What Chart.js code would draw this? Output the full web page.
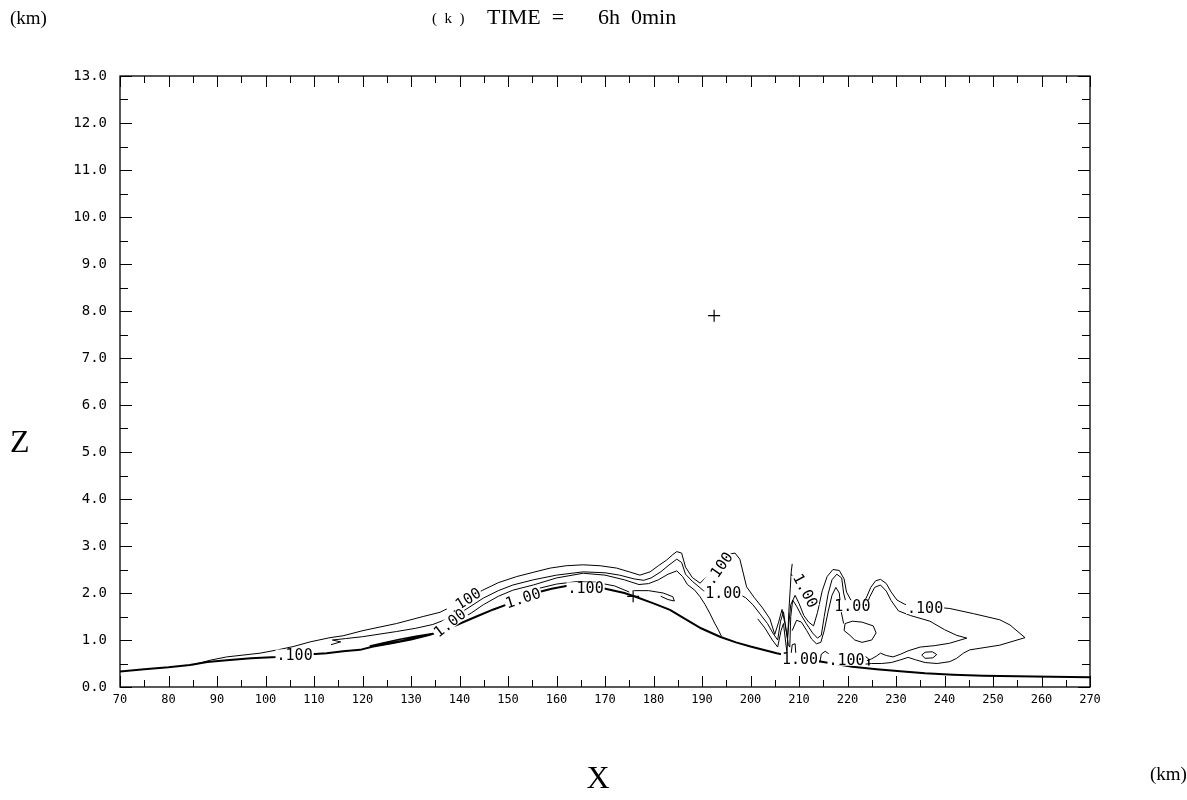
<!DOCTYPE html>
<html>
<head>
<meta charset="utf-8">
<script src="https://cdn.jsdelivr.net/npm/chart.js@4.4.1/dist/chart.umd.min.js"></script>
<style>
    html, body { margin: 0; padding: 0; background: #fff; }
</style>
</head>
<body>
<canvas id="contourChart" width="1187" height="800"></canvas>
<script>
// all values in km: [x, z]
const terrain = [
    [70, 0.33], [75, 0.38], [80, 0.42], [84.4, 0.47], [88, 0.53], [92, 0.57], [97, 0.61], [102.3, 0.64],
    [107, 0.68], [112.6, 0.72], [116, 0.76], [119.5, 0.79], [122.2, 0.86], [126, 0.93], [130, 1.01],
    [133.9, 1.11], [137, 1.22], [139.4, 1.32], [143.5, 1.50], [147, 1.65], [150.4, 1.78], [153, 1.90],
    [156, 2.01], [159, 2.09], [162, 2.15], [165, 2.17], [168, 2.14], [171, 2.07], [174, 2.00], [176, 1.93],
    [180, 1.78], [183.4, 1.64], [186.5, 1.45], [189.8, 1.25], [193.7, 1.07], [197, 0.95], [200, 0.86],
    [205.4, 0.72], [210, 0.62], [215, 0.53], [221, 0.43], [226, 0.38], [231.5, 0.33], [236, 0.29],
    [241.8, 0.26], [248, 0.24], [255, 0.23], [262, 0.22], [270, 0.21]
];

const outerContour = [
    [85, 0.47], [88.6, 0.57], [92, 0.64], [98.9, 0.72], [102.5, 0.79], [105.7, 0.86], [109.2, 0.96],
    [113.3, 1.05], [116, 1.09], [120.1, 1.20], [127, 1.35], [132.5, 1.50], [136, 1.59], [140, 1.80],
    [144.8, 2.06], [148, 2.22], [151.8, 2.35], [155.2, 2.44], [158.7, 2.53], [162, 2.58], [165.5, 2.60],
    [169, 2.58], [172.4, 2.53], [175, 2.45], [177.2, 2.38], [179.3, 2.45], [181, 2.58], [182.7, 2.70],
    [184, 2.82], [184.8, 2.88], [185.8, 2.85], [186.6, 2.55], [188, 2.33], [189.6, 2.21], [191.5, 2.40],
    [193.5, 2.65], [195.3, 2.82], [196.8, 2.85], [197.8, 2.72], [199.2, 2.13], [200.8, 1.90], [202.5, 1.68],
    [204, 1.45], [205, 1.12], [205.8, 1.38], [206.5, 1.65], [207.1, 1.35], [207.6, 1.05], [208.3, 1.75],
    [209.2, 1.95], [210, 1.78], [211, 1.52], [212, 1.38], [213, 1.30], [213.8, 1.58], [214.8, 2.05],
    [215.8, 2.35], [217, 2.50], [218.3, 2.48], [219.3, 2.30], [219.8, 2.02], [220.8, 1.83], [222.5, 1.78],
    [223.8, 1.88], [224.8, 2.12], [225.8, 2.26], [226.8, 2.29], [228, 2.20], [229, 2.02], [230.2, 1.85],
    [231.8, 1.76], [236, 1.72], [241.1, 1.67], [246, 1.56], [251.4, 1.43], [253.5, 1.32], [256.6, 1.05],
    [251.4, 0.89], [245.2, 0.79], [243.9, 0.72], [242.5, 0.61], [241.1, 0.54], [238.5, 0.50], [236, 0.52],
    [234, 0.58], [232.5, 0.63], [231, 0.58], [229, 0.52], [227, 0.50], [225, 0.50], [223, 0.48]
];

const secondContour = [
    [113.5, 0.90], [115.5, 0.96], [113.8, 1.00], [116.5, 1.03], [120, 1.07], [127, 1.18], [131, 1.25],
    [134.5, 1.33], [138, 1.47], [141, 1.63], [144.9, 1.89], [148, 2.05], [151, 2.17], [155.2, 2.28],
    [160, 2.38], [165.5, 2.45], [170, 2.43], [173, 2.38], [176, 2.30], [178, 2.27], [179.5, 2.32],
    [181.5, 2.45], [183, 2.58], [184.8, 2.72], [185.8, 2.65], [186.6, 2.40], [188, 2.25], [190.3, 2.05],
    [192, 2.00], [197.5, 1.98], [199, 1.90], [200.5, 1.75], [202, 1.55], [203.5, 1.35], [204.6, 1.15],
    [205.6, 1.00], [206.2, 1.40], [206.8, 1.60], [207.3, 1.25], [207.8, 0.90], [208.1, 0.85], [208.3, 1.50],
    [208.7, 1.85], [209.5, 1.72], [210.5, 1.52], [211.5, 1.35], [212.8, 1.15], [213.8, 1.04], [214.6, 1.10],
    [215.2, 1.50], [216, 1.98], [216.8, 2.28], [217.8, 2.40], [218.8, 2.32], [219.2, 2.00], [219.8, 1.75],
    [221, 1.64], [222.5, 1.60], [223.6, 1.66], [224.6, 1.92], [225.6, 2.12], [226.8, 2.17], [228, 2.04],
    [229, 1.84], [230.5, 1.62], [233, 1.52], [237, 1.40], [240, 1.22], [242.5, 1.10], [244.6, 1.04],
    [241, 0.93], [238, 0.88], [235, 0.85], [232.5, 0.77], [231, 0.70], [229.4, 0.64], [228, 0.67],
    [226.8, 0.72], [226, 0.66], [225, 0.60], [224, 0.56]
];

const thirdContour = [
    [134.6, 1.14], [137, 1.24], [140, 1.42], [142.5, 1.58], [144.9, 1.75], [148, 1.93], [151, 2.06],
    [155.2, 2.17], [160, 2.32], [165.5, 2.42], [170, 2.38], [174, 2.28], [177, 2.18], [179, 2.20],
    [181, 2.28], [183, 2.40], [184.8, 2.47], [186, 2.35], [187, 2.18], [188.5, 2.06], [189.6, 1.92],
    [190.6, 1.76], [191.6, 1.57], [192.6, 1.36], [193.4, 1.21], [194, 1.08]
];

const peakContour = [
    [156, 2.09], [160, 2.19], [164, 2.24], [168, 2.23], [172, 2.15], [175, 2.02]
];

const windwardLens = [
    [121.5, 0.87], [124, 0.93], [127.5, 1.01], [131, 1.08], [134.6, 1.14],
    [131, 1.05], [127.5, 0.97], [124, 0.90], [121.5, 0.87]
];

const leeTail = [
    [176, 2.05], [179, 2.05], [182, 2.00], [184, 1.92], [184.3, 1.83], [183, 1.86], [181.5, 1.93]
];

const wInner = [
    [201.5, 1.45], [203, 1.25], [204.5, 1.00], [205.6, 0.85], [206.3, 1.20], [206.8, 1.35], [207.2, 1.00], [207.5, 0.75]
];

const uInner = [
    [208.6, 1.20], [209.5, 1.42], [210.5, 1.38], [211.6, 1.20], [212.6, 1.02], [213.6, 0.92], [214.5, 0.95],
    [215.2, 1.20], [216, 1.60], [216.8, 1.95], [217.6, 2.12], [218.3, 2.00], [218.7, 1.60], [219.2, 1.35]
];

const verticalStroke = [
    [207.5, 0.70], [207.7, 1.10], [207.9, 1.60], [208.2, 2.10], [208.4, 2.45], [208.6, 2.62]
];
const verticalBranch = [
    [208.35, 2.40], [208.9, 2.32], [209.6, 2.36]
];

const kidneyLoop = [
    [219.5, 1.35], [221, 1.40], [223, 1.38], [225.3, 1.30], [225.9, 1.15], [225, 1.00],
    [223, 0.95], [221.5, 1.00], [220.5, 1.10], [219.3, 1.20], [219.5, 1.35]
];
const smallLoop = [
    [235.3, 0.68], [236, 0.74], [237.5, 0.75], [238.4, 0.69], [237.6, 0.62], [236, 0.61], [235.3, 0.68]
];
const bumpA = [[208.3, 0.64], [208.6, 0.90], [209.2, 0.92], [209.4, 0.62]];
const bumpB = [[214.3, 0.52], [214.6, 0.70], [215.4, 0.76], [216.2, 0.70], [216.4, 0.52]];
const bumpC = [[222.7, 0.45], [222.9, 0.60], [223.6, 0.66], [224.3, 0.60], [224.4, 0.46]];

const crossMarks = [[192.5, 7.9], [175.8, 1.93]];

// contour labels: text, x, z, angle (deg)
const labelTexts = ['.100', '.100', '1.00', '1.00', '.100', '.100', '1.00', '1.00', '1.00', '.100', '1.00', '.100'];
const labelX = [106, 141, 138, 153.1, 166, 193.5, 194.4, 211.3, 221, 236, 210.2, 219.8];
const labelZ = [0.67, 1.83, 1.36, 1.89, 2.10, 2.52, 2.00, 2.05, 1.72, 1.68, 0.60, 0.58];
const labelAngle = [0, -32, -38, -18, 0, -55, 0, 62, 0, 0, 0, 0];

const xMin = 70, xMax = 270, xStep = 10;
const zMin = 0, zMax = 13, zStep = 1;

document.addEventListener('DOMContentLoaded', function () {
    const ctx = document.getElementById('contourChart').getContext('2d');

    const toPts = arr => arr.map(p => ({ x: p[0], y: p[1] }));
    const line = (arr, width) => ({
        data: toPts(arr),
        showLine: true,
        borderColor: '#000',
        borderWidth: width || 1,
        pointRadius: 0,
        fill: false,
        tension: 0
    });

    const data = {
        datasets: [
            line(terrain, 2),
            line(outerContour),
            line(secondContour),
            line(thirdContour),
            line(peakContour),
            line(windwardLens, 1.6),
            line(leeTail),
            line(wInner),
            line(uInner),
            line(verticalStroke),
            line(verticalBranch),
            line(kidneyLoop),
            line(smallLoop),
            line(bumpA),
            line(bumpB),
            line(bumpC),
            {
                data: toPts(crossMarks),
                showLine: false,
                pointStyle: 'cross',
                pointRadius: 6,
                borderColor: '#000',
                borderWidth: 1.2
            }
        ]
    };

    // box with inward ticks on all sides
    const frame = {
        id: 'frame',
        afterDatasetsDraw(chart) {
            const c = chart.ctx;
            const a = chart.chartArea;
            const x = chart.scales.x, y = chart.scales.y;
            c.save();
            c.strokeStyle = '#000';
            c.lineWidth = 1.3;
            c.strokeRect(a.left, a.top, a.right - a.left, a.bottom - a.top);
            c.lineWidth = 1;
            c.beginPath();
            for (let v = xMin; v <= xMax; v += xStep / 2) {
                const px = Math.round(x.getPixelForValue(v)) + 0.5;
                const len = (v - xMin) % xStep === 0 ? 11 : 7;
                c.moveTo(px, a.bottom); c.lineTo(px, a.bottom - len);
                c.moveTo(px, a.top); c.lineTo(px, a.top + len);
            }
            for (let v = zMin; v <= zMax; v += zStep / 2) {
                const py = Math.round(y.getPixelForValue(v)) + 0.5;
                const len = v % zStep === 0 ? 12 : 8;
                c.moveTo(a.left, py); c.lineTo(a.left + len, py);
                c.moveTo(a.right, py); c.lineTo(a.right - len, py);
            }
            c.stroke();

            // contour labels
            c.font = '15px "DejaVu Sans Mono"';
            c.textAlign = 'center';
            c.textBaseline = 'middle';
            labelTexts.forEach((t, i) => {
                const px = x.getPixelForValue(labelX[i]);
                const py = y.getPixelForValue(labelZ[i]);
                const w = c.measureText(t).width;
                c.save();
                c.translate(px, py);
                c.rotate(labelAngle[i] * Math.PI / 180);
                c.fillStyle = '#fff';
                c.fillRect(-w / 2 - 1, -6, w + 2, 12);
                c.fillStyle = '#000';
                c.fillText(t, 0, 1);
                c.restore();
            });
            c.restore();
        },
        afterDraw(chart) {
            const c = chart.ctx;
            c.save();
            c.fillStyle = '#000';
            c.textBaseline = 'alphabetic';
            c.textAlign = 'left';
            c.font = '19px "Liberation Serif"';
            c.fillText('(km)', 10, 24);
            c.font = '15px "Liberation Serif"';
            c.fillText('(  k  )', 432, 23);
            c.font = '22px "Liberation Serif"';
            c.fillText('TIME  =', 487, 24);
            c.fillText('6h  0min', 598, 24);
            c.font = '32px "Liberation Serif"';
            c.fillText('Z', 10, 452);
            c.textAlign = 'center';
            c.fillText('X', 598, 788);
            c.textAlign = 'left';
            c.font = '19px "Liberation Serif"';
            c.fillText('(km)', 1150, 780);
            c.restore();
        }
    };

    const config = {
        type: 'scatter',
        data: data,
        options: {
            responsive: false,
            animation: false,
            layout: { padding: { top: 76, right: 97, left: 0, bottom: 0 } },
            plugins: {
                legend: { display: false },
                tooltip: { enabled: false }
            },
            scales: {
                x: {
                    type: 'linear',
                    min: xMin,
                    max: xMax,
                    grid: { display: false, drawTicks: false },
                    border: { display: false },
                    afterFit: s => { s.height = 113; },
                    ticks: {
                        stepSize: xStep,
                        autoSkip: false,
                        maxRotation: 0,
                        padding: 6,
                        color: '#000',
                        font: { family: 'DejaVu Sans Mono', size: 12 }
                    }
                },
                y: {
                    min: zMin,
                    max: zMax,
                    grid: { display: false, drawTicks: false },
                    border: { display: false },
                    afterFit: s => { s.width = 120; },
                    ticks: {
                        stepSize: zStep,
                        padding: 13,
                        color: '#000',
                        font: { family: 'DejaVu Sans Mono', size: 14 },
                        callback: v => v.toFixed(1)
                    }
                }
            }
        },
        plugins: [frame]
    };

    new Chart(ctx, config);
});
</script>
</body>
</html>
